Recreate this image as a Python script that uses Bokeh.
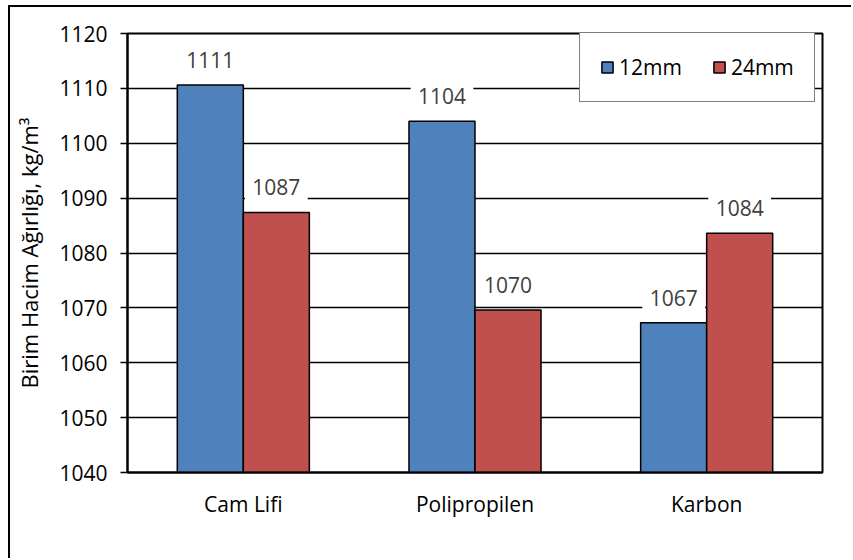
from bokeh.plotting import figure
from bokeh.models import (FactorRange, Range1d, FixedTicker, ColumnDataSource,
                          LabelSet, Legend, LegendItem)
from bokeh.core.properties import value
from bokeh.transform import dodge
from bokeh.embed import file_html
from bokeh.resources import INLINE

# Fibre types and unit weight per fibre length (kg/m3)
categories = ["Cam Lifi", "Polipropilen", "Karbon"]
series_names = ["12mm", "24mm"]
values_12mm = [1110.6, 1104.0, 1067.3]
values_24mm = [1087.4, 1069.6, 1083.6]
y_ticks = [1040, 1050, 1060, 1070, 1080, 1090, 1100, 1110, 1120]

FONT = "Open Sans"
BLUE = "#4F81BD"
RED = "#C0504D"

FRAME_H = 439          # plot-area height in px
LABEL_GAP = 25         # px between bar top and centre of its value label
px_per_unit = FRAME_H / (y_ticks[-1] - y_ticks[0])
lift = LABEL_GAP / px_per_unit

src = ColumnDataSource(dict(
    cat=categories,
    v12=values_12mm,
    v24=values_24mm,
    b12=[v + lift for v in values_12mm],
    b24=[v + lift for v in values_24mm],
    t12=[f"{round(v):d}" for v in values_12mm],
    t24=[f"{round(v):d}" for v in values_24mm],
))

p = figure(
    width=843, height=553,
    x_range=FactorRange(*categories, range_padding=0),
    y_range=Range1d(y_ticks[0], y_ticks[-1]),
    output_backend="svg", toolbar_location=None,
    min_border_left=117, min_border_right=31,
    min_border_top=26, min_border_bottom=88,
)
# chart-area frame: only the top and left edges fall inside the page
p.styles = {"margin-left": "8px", "margin-top": "5px",
            "border-top": "2px solid black", "border-left": "2px solid black"}

p.outline_line_color = "black"
p.outline_line_width = 2
p.background_fill_color = "white"
p.border_fill_color = "white"

bw = 0.285
r12 = p.vbar(x=dodge("cat", -bw / 2, range=p.x_range), top="v12", bottom=y_ticks[0],
             width=bw, source=src, fill_color=BLUE, line_color="black", line_width=1.5)
r24 = p.vbar(x=dodge("cat", bw / 2, range=p.x_range), top="v24", bottom=y_ticks[0],
             width=bw, source=src, fill_color=RED, line_color="black", line_width=1.5)

# value labels above bars, on white boxes that hide the grid behind them
for col, box, txt, off in (("v12", "b12", "t12", -bw / 2), ("v24", "b24", "t24", bw / 2)):
    p.rect(x=dodge("cat", off, range=p.x_range), y=box, width=bw * 0.95,
           height=28, height_units="screen", source=src,
           fill_color="white", line_color=None)
    p.add_layout(LabelSet(
        x=dodge("cat", off, range=p.x_range), y=col, text=txt, source=src,
        y_offset=LABEL_GAP, text_align="center", text_baseline="middle",
        text_font=value(FONT), text_font_size=value("21px"), text_color="#404040",
    ))

# axes
p.yaxis.ticker = FixedTicker(ticks=y_ticks)
p.yaxis.axis_label = "Birim Hacim Ağırlığı, kg/m³"
p.yaxis.axis_label_text_font = FONT
p.yaxis.axis_label_text_font_size = "22px"
p.yaxis.axis_label_text_font_style = "normal"
p.yaxis.axis_label_text_color = "black"
p.yaxis.axis_label_standoff = 12
p.yaxis.major_label_text_font = FONT
p.yaxis.major_label_text_font_size = "21px"
p.yaxis.major_label_text_color = "black"
p.yaxis.major_label_standoff = 13
p.yaxis.major_tick_out = 7
p.yaxis.major_tick_in = 0
p.yaxis.minor_tick_out = 0
p.yaxis.minor_tick_in = 0
p.yaxis.axis_line_width = 2
p.yaxis.major_tick_line_width = 1.5
p.yaxis.axis_line_color = "black"

p.xaxis.major_label_text_font = FONT
p.xaxis.major_label_text_font_size = "21px"
p.xaxis.major_label_text_color = "black"
p.xaxis.major_label_standoff = 17
p.xaxis.major_tick_out = 0
p.xaxis.major_tick_in = 0
p.xaxis.axis_line_width = 2
p.xaxis.axis_line_color = "black"

p.xgrid.grid_line_color = None
p.ygrid.ticker = FixedTicker(ticks=y_ticks)
p.ygrid.grid_line_color = "black"
p.ygrid.grid_line_width = 1.5

legend = Legend(
    items=[LegendItem(label=series_names[0], renderers=[r12]),
           LegendItem(label=series_names[1], renderers=[r24])],
    orientation="horizontal", location=(452, 370),
    glyph_width=14, glyph_height=14, label_standoff=5, spacing=30,
    padding=20, margin=0,
    label_text_font=FONT, label_text_font_size="21px", label_text_color="black",
    border_line_color="black", border_line_width=1.5,
    background_fill_color="white", background_fill_alpha=1,
)
p.add_layout(legend, "center")

open("out.html", "w").write(file_html(p, INLINE))
